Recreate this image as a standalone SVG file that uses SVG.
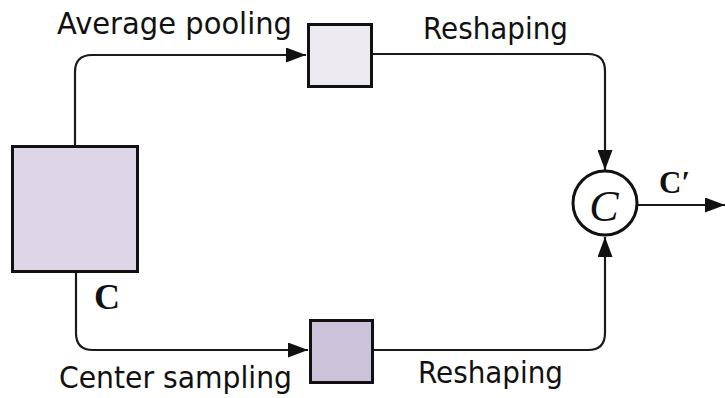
<svg xmlns="http://www.w3.org/2000/svg" width="725" height="398" viewBox="0 0 725 398">
  <style>
    .box { stroke: #111; stroke-width: 3; }
    .wire { fill: none; stroke: #1a1a1a; stroke-width: 2.2; }
    .lbl { font-family: "DejaVu Sans", Verdana, sans-serif; font-size: 31px; fill: #111; }
    .math { font-family: "Liberation Serif", "DejaVu Serif", serif; fill: #111; }
  </style>
  <defs>
    <marker id="arrow" markerUnits="userSpaceOnUse" markerWidth="21" markerHeight="15" refX="20" refY="7.5" orient="auto">
      <path d="M0,0 L20,7.5 L0,15 Z" fill="#111"/>
    </marker>
  </defs>

  <!-- connectors -->
  <g id="connectors">
    <path class="wire" d="M75,146 V72 Q75,55 92,55 H306" marker-end="url(#arrow)"/>
    <path class="wire" d="M373,54 H588 Q605,54 605,71 V170" marker-end="url(#arrow)"/>
    <path class="wire" d="M76,272 V333 Q76,350 93,350 H308" marker-end="url(#arrow)"/>
    <path class="wire" d="M374,350 H588 Q605,350 605,333 V237" marker-end="url(#arrow)"/>
    <path class="wire" d="M638,205 H725" marker-end="url(#arrow)"/>
  </g>

  <!-- input feature map C -->
  <g id="input">
    <rect class="box" x="12.5" y="146.5" width="125" height="125" fill="#dcd6e6"/>
    <text class="math" x="94" y="309" font-size="36" font-weight="bold">C</text>
  </g>

  <!-- pooled branch -->
  <g id="pooled">
    <rect class="box" x="308.5" y="24.5" width="63" height="62" fill="#ece9f1"/>
  </g>

  <!-- sampled branch -->
  <g id="sampled">
    <rect class="box" x="310.5" y="320.5" width="62" height="62" fill="#cbc3d9"/>
  </g>

  <!-- concatenation -->
  <g id="concat">
    <circle cx="605" cy="203" r="32" fill="#fff" stroke="#111" stroke-width="3"/>
    <text class="math" x="604" y="221" font-size="44" font-style="italic" text-anchor="middle">C</text>
    <text class="math" x="659" y="193" font-size="31" font-weight="bold">C′</text>
  </g>

  <!-- branch labels -->
  <g id="labels">
    <text class="lbl" x="57" y="34" textLength="235" lengthAdjust="spacingAndGlyphs">Average pooling</text>
    <text class="lbl" x="423" y="39" textLength="145" lengthAdjust="spacingAndGlyphs">Reshaping</text>
    <text class="lbl" x="59" y="388" textLength="233" lengthAdjust="spacingAndGlyphs">Center sampling</text>
    <text class="lbl" x="418" y="383" textLength="145" lengthAdjust="spacingAndGlyphs">Reshaping</text>
  </g>
</svg>
